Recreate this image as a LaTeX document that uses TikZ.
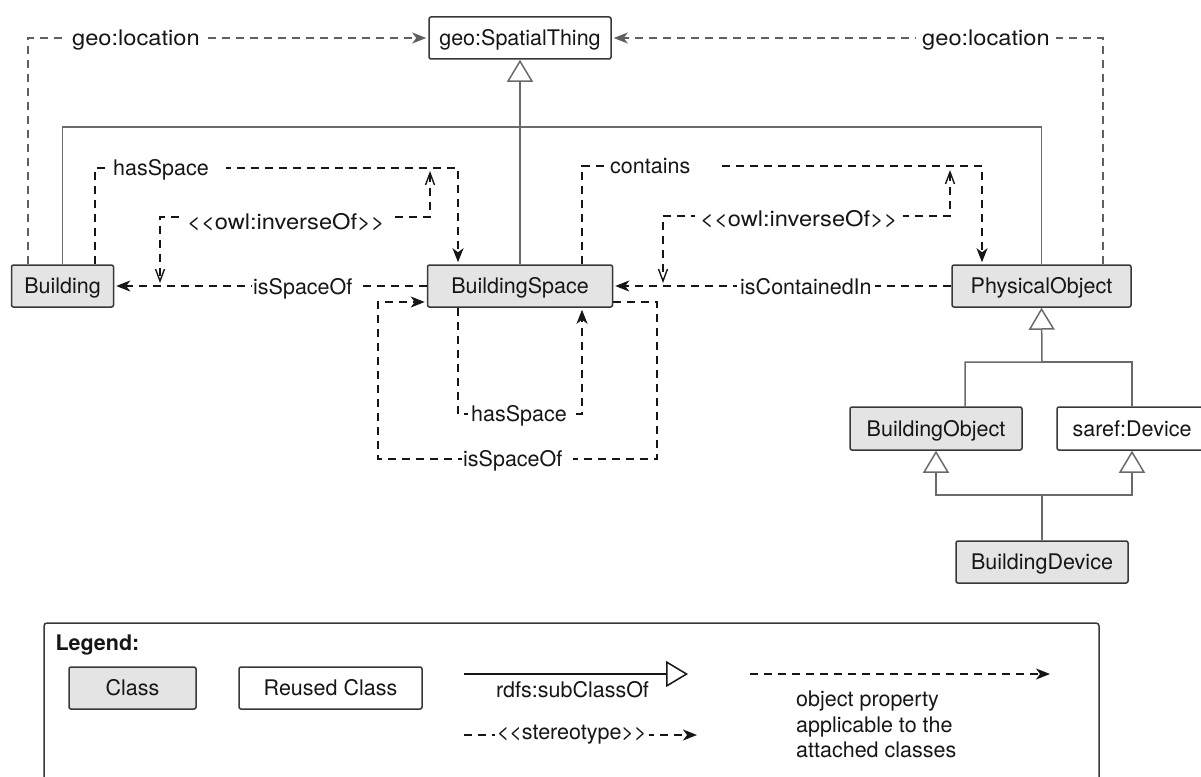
\documentclass[tikz,border=0pt]{standalone}
\usepackage{fontspec}
\setmainfont{TeX Gyre Heros}[Ligatures=TeXOff]
\usepackage{graphicx}
\usetikzlibrary{arrows.meta}

\definecolor{classfill}{HTML}{E4E4E4}
\definecolor{boxline}{HTML}{383838}
\definecolor{genline}{HTML}{6A6A6A}
\definecolor{geoline}{HTML}{606060}
\definecolor{ink}{HTML}{161616}

\begin{document}
\begin{tikzpicture}[x=1pt,y=-1pt,
  font=\fontsize{21.5}{25.5}\selectfont,
  box/.style={draw=boxline, line width=1.5pt, rounded corners=2pt,
    minimum height=42pt, inner sep=0pt, text=ink,
    text height=15.5pt, text depth=0pt},
  classbox/.style={box, fill=classfill},
  reusedbox/.style={box, fill=white},
  genedge/.style={draw=genline, line width=1.5pt},
  gentip/.style={-{Triangle[open,length=22pt,width=26pt]}},
  propedge/.style={draw=ink, line width=1.6pt, dash pattern=on 8pt off 6pt,
    shorten >=2pt, -{Stealth[length=14pt,width=11pt,inset=4pt]}},
  geoedge/.style={propedge, draw=geoline},
  invedge/.style={draw=ink, line width=1.4pt, dash pattern=on 8pt off 6pt,
    {Straight Barb[length=12pt,width=9pt]}-{Straight Barb[length=12pt,width=9pt]}},
  edgelabel/.style={fill=white, text=ink, inner ysep=2pt, anchor=west,
    text height=15.5pt, text depth=0pt},
]
\useasboundingbox (0,0) rectangle (1201,776);
\begin{scope}
\clip (0,0) rectangle (1201,776);

% classes
\node[reusedbox, minimum width=182pt] (st) at (520,38) {geo:SpatialThing};
\node[classbox, minimum width=102pt] (bld) at (62.5,286) {Building};
\node[classbox, minimum width=185pt] (bs) at (520,286) {BuildingSpace};
\node[classbox, minimum width=179pt] (po) at (1041.5,286) {PhysicalObject};
\node[classbox, minimum width=172pt, minimum height=43pt] (bo) at (936,428.5) {BuildingObject};
\node[reusedbox, minimum width=150pt, minimum height=43pt] (sd) at (1132,428.5) {saref:Device};
\node[classbox, minimum width=172pt] (bdv) at (1042,562) {BuildingDevice};

% subclass relations
\draw[genedge, gentip] (bs.north) -- (st.south);
\draw[genedge] (bld.north) -- (bld.north |- 0,127) -- (po.north |- 0,127) -- (po.north);
\draw[genedge, gentip] (bo.north -| 965,0) |- (1042,362) -- (po.south);
\draw[genedge] (sd.north) |- (1042,362);
\draw[genedge, gentip] (bdv.north) |- (bo.south |- 0,495) -- (bo.south);
\draw[genedge, gentip] (bdv.north) |- (sd.south |- 0,495) -- (sd.south);

% object properties
\draw[geoedge] (bld.north -| 28,0) |- (st.west);
\draw[geoedge] (po.north -| 1103,0) |- (st.east);
\draw[propedge] (bld.north -| 95,0) |- (458,168) -- (bs.north -| 458,0);
\draw[propedge] (bs.north -| 582,0) |- (982,166) -- (po.north -| 982,0);
\draw[propedge] (bs.west) -- (bld.east);
\draw[propedge] (po.west) -- (bs.east);
\draw[propedge] (bs.south -| 458,0) |- (582,414) -- (bs.south -| 582,0);
\draw[propedge] (bs.east |- 0,302) -| (657,459) -| (378,302) -- (bs.west |- 0,302);

% inverse-of links between properties
\coordinate (invLa) at (430,171);
\coordinate (invLb) at (160,283);
\coordinate (invRa) at (950,170);
\coordinate (invRb) at (663,283);
\draw[invedge] (invLa) |- (160,217) -- (invLb);
\draw[invedge] (invRa) |- (663,216) -- (invRb);

% property labels
\node[edgelabel, inner xsep=6pt] (lgeo1) at (66,38) {\scalebox{1.1}[1]{geo:location}};
\node[edgelabel, inner xsep=6pt] (lgeo2) at (916,38) {\scalebox{1.1}[1]{geo:location}};
\node[edgelabel, inner xsep=3pt] (lhs1) at (110,168) {hasSpace\hspace*{14pt}};
\node[edgelabel, inner xsep=5pt] (linv1) at (182,222) {\scalebox{1.1}[1]{<<owl:inverseOf>>}};
\node[edgelabel, inner xsep=1pt] (lso1) at (252,287) {isSpaceOf\hspace*{8pt}};
\node[edgelabel, inner xsep=1pt] (lct) at (609,166) {contains\hspace*{25pt}};
\node[edgelabel, inner xsep=5pt] (linv2) at (695,219) {\scalebox{1.1}[1]{<<owl:inverseOf>>}};
\node[edgelabel, inner xsep=3pt] (lci) at (737,287) {isContainedIn};
\node[edgelabel, inner xsep=3pt] (lhs2) at (468,414) {hasSpace};
\node[edgelabel, inner xsep=1pt] (lso2) at (462,459) {isSpaceOf\hspace*{10pt}};

% legend
\draw[draw=boxline, line width=1.5pt, rounded corners=3pt] (44,623) rectangle (1099,820);
\node[anchor=west, text=ink, font=\fontsize{21.5}{25.5}\selectfont\bfseries] (legtitle) at (52,645) {Legend:};
\node[classbox, minimum width=127pt] (lgclass) at (132.5,688) {Class};
\node[reusedbox, minimum width=183pt] (lgreused) at (330.5,688) {Reused Class};
\coordinate (lgsubA) at (464,674);
\coordinate (lgsubB) at (688,674);
\draw[draw=ink, line width=1.5pt, gentip] (lgsubA) -- (lgsubB);
\node[anchor=base, text=ink] (lgsubtext) at (572.5,697) {rdfs:subClassOf};
\coordinate (lgstA) at (464,735);
\coordinate (lgstB) at (697,735);
\draw[propedge, shorten >=0pt] (lgstA) -- (lgstB);
\node[anchor=base, fill=white, inner xsep=2pt, inner ysep=1pt, text=ink] (lgsttext) at (571.7,739.5) {<<stereotype>>};
\coordinate (lgopA) at (750,674);
\coordinate (lgopB) at (1050,674);
\draw[propedge, shorten >=0pt] (lgopA) -- (lgopB);
\node[anchor=north west, align=left, inner sep=0pt, text=ink] (lgoptext) at (796,691) {object property\\applicable to the\\attached classes};
\end{scope}
\end{tikzpicture}
\end{document}
